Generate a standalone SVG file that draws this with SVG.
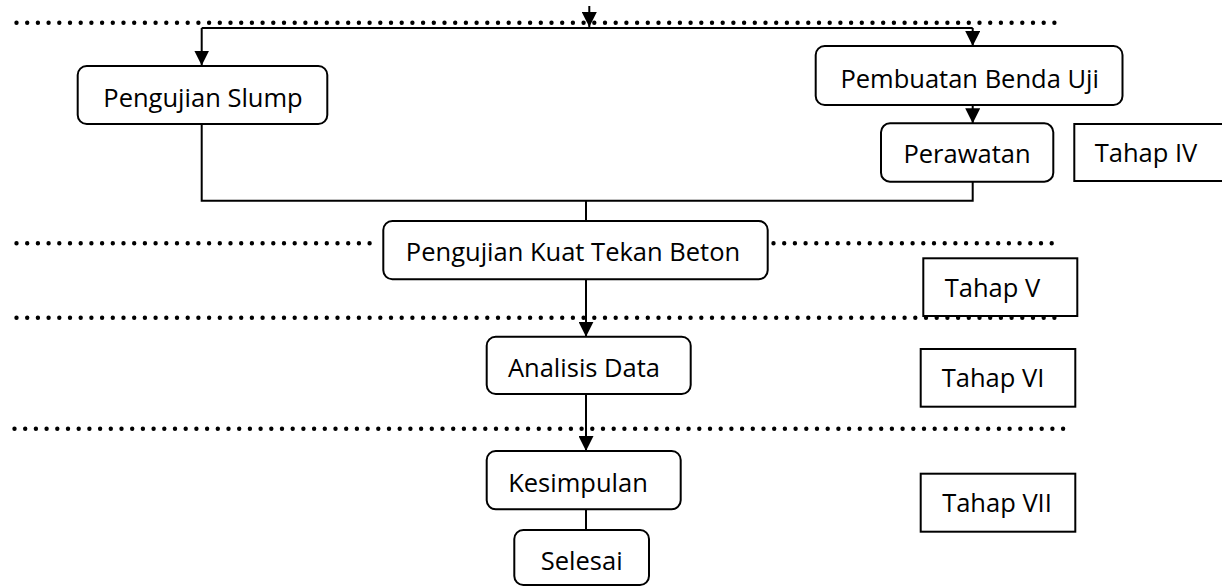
<svg xmlns="http://www.w3.org/2000/svg" width="1222" height="586" viewBox="0 0 1222 586">
  <style>
    .box { fill: #ffffff; stroke: #000000; stroke-width: 2; }
    .lbl { font-family: "Open Sans", "Noto Sans", sans-serif; font-size: 25.5px; fill: #000000; text-anchor: middle; }
    .con { fill: none; stroke: #000000; stroke-width: 2; }
    .dots { fill: none; stroke: #000000; stroke-width: 4.4; stroke-linecap: round; stroke-dasharray: 0 10.7; }
  </style>
  <defs>
    <marker id="arrow" viewBox="0 0 15 15" refX="15" refY="7.5" markerWidth="15" markerHeight="15" markerUnits="userSpaceOnUse" orient="auto">
      <path d="M0,0 L15,7.5 L0,15 Z" fill="#000000"/>
    </marker>
  </defs>

  <rect width="1222" height="586" fill="#ffffff"/>

  <g id="nodes">
    <g id="node-slump">
      <rect class="box" x="77.7" y="66" width="249.6" height="58" rx="9"/>
      <text class="lbl" x="203" y="106.7">Pengujian Slump</text>
    </g>
    <g id="node-pembuatan">
      <rect class="box" x="815.7" y="46" width="306.8" height="59" rx="9"/>
      <text class="lbl" x="969.7" y="88.3">Pembuatan Benda Uji</text>
    </g>
    <g id="node-perawatan">
      <rect class="box" x="881" y="123.3" width="172.3" height="58.4" rx="9"/>
      <text class="lbl" x="967" y="163.3">Perawatan</text>
    </g>
    <g id="node-tahap4">
      <rect class="box" x="1074.3" y="124" width="160" height="57"/>
      <text class="lbl" x="1146" y="162">Tahap IV</text>
    </g>
    <g id="node-kuattekan">
      <rect class="box" x="383.3" y="221" width="384.4" height="58.3" rx="9"/>
      <text class="lbl" x="573" y="261">Pengujian Kuat Tekan Beton</text>
    </g>
    <g id="node-tahap5">
      <rect class="box" x="923.3" y="258.3" width="154" height="57.7"/>
      <text class="lbl" x="992.5" y="296.7">Tahap V</text>
    </g>
    <g id="node-analisis">
      <rect class="box" x="486.7" y="336.7" width="204" height="57.3" rx="9"/>
      <text class="lbl" x="584" y="376.7">Analisis Data</text>
    </g>
    <g id="node-tahap6">
      <rect class="box" x="920.7" y="349" width="154.6" height="57.7"/>
      <text class="lbl" x="993" y="387.3">Tahap VI</text>
    </g>
    <g id="node-kesimpulan">
      <rect class="box" x="486.7" y="451" width="194" height="58.3" rx="9"/>
      <text class="lbl" x="578" y="491.7">Kesimpulan</text>
    </g>
    <g id="node-tahap7">
      <rect class="box" x="920.7" y="473.7" width="154.6" height="58"/>
      <text class="lbl" x="997" y="512.3">Tahap VII</text>
    </g>
    <g id="node-selesai">
      <rect class="box" x="514.3" y="530" width="134.7" height="55" rx="9"/>
      <text class="lbl" x="581.7" y="570">Selesai</text>
    </g>
  </g>

  <g id="separators">
    <path class="dots" d="M16.5,22.7 H1062"/>
    <path class="dots" d="M16.5,243.3 H380"/>
    <path class="dots" d="M773.5,243.3 H1062"/>
    <path class="dots" d="M16.5,317.7 H1063"/>
    <path class="dots" d="M14.5,428.7 H1066"/>
  </g>

  <g id="connectors">
    <path class="con" d="M589.3,6 V27" marker-end="url(#arrow)"/>
    <path class="con" d="M201.7,28 H972.7"/>
    <path class="con" d="M201.7,28 V65.5" marker-end="url(#arrow)"/>
    <path class="con" d="M972.7,28 V46" marker-end="url(#arrow)"/>
    <path class="con" d="M972.7,105 V123.3" marker-end="url(#arrow)"/>
    <path class="con" d="M201.7,124 V200.7 H972.7 V181.7"/>
    <path class="con" d="M586,200.7 V221"/>
    <path class="con" d="M586,279.3 V336.7" marker-end="url(#arrow)"/>
    <path class="con" d="M586,394 V451" marker-end="url(#arrow)"/>
    <path class="con" d="M586,509.3 V530"/>
  </g>
</svg>
